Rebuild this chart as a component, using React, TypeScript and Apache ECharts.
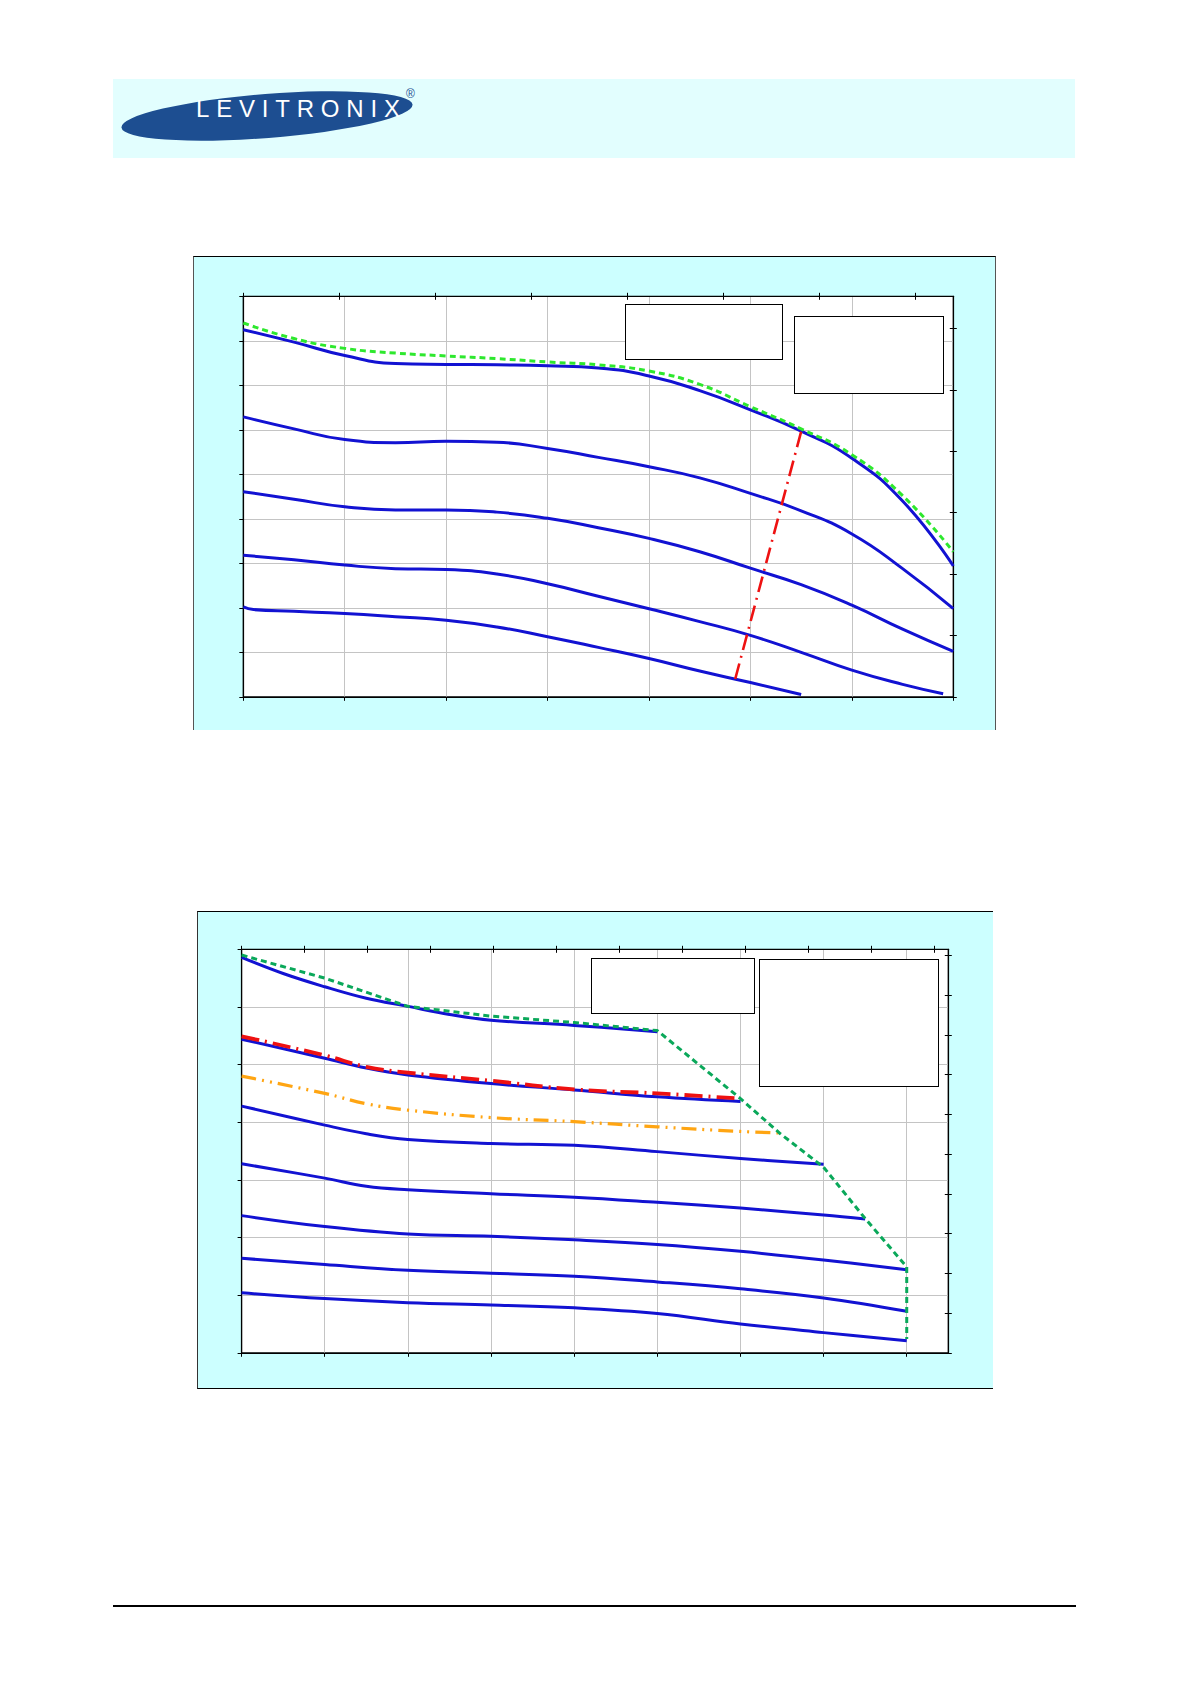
import React, { useEffect, useRef } from "react";
import * as echarts from "echarts";

const W = 1191;
const H = 1684;

// unit conversions for secondary axes
const LPM_PER_GPM = 3.785;
const PSI_PER_BAR = 14.5038;

// ---------- Chart 1 (flow L/min, pressure bar) ----------
const C1_FLOW_MAX = 70;
const C1_PRES_MAX = 4.5;
const C1_TOP_TICKS = [0, 2.5, 5, 7.5, 10, 12.5, 15, 17.5];
const C1_RIGHT_TICKS = [0, 10, 20, 30, 40, 50, 60];

const C1_CURVE_1 = [[0, 4.125], [5, 3.985], [10, 3.835], [15, 3.745], [20, 3.735], [25, 3.73], [30, 3.72], [35, 3.695], [40, 3.605], [45, 3.44], [50, 3.225], [55, 2.985], [60, 2.68], [65, 2.2], [70, 1.47]];
const C1_CURVE_2 = [[0, 3.145], [5, 3.01], [10, 2.89], [15, 2.855], [20, 2.87], [25, 2.86], [30, 2.79], [35, 2.69], [40, 2.585], [45, 2.46], [50, 2.285], [55, 2.09], [60, 1.83], [65, 1.44], [70, 0.99]];
const C1_CURVE_3 = [[0, 2.305], [5, 2.22], [10, 2.135], [15, 2.1], [20, 2.1], [25, 2.075], [30, 2.005], [35, 1.9], [40, 1.78], [45, 1.63], [50, 1.445], [55, 1.26], [60, 1.03], [65, 0.76], [70, 0.51]];
const C1_CURVE_4 = [[0, 1.59], [5, 1.54], [10, 1.48], [15, 1.44], [20, 1.43], [25, 1.38], [30, 1.27], [35, 1.13], [40, 0.99], [45, 0.845], [50, 0.69], [55, 0.5], [60, 0.3], [65, 0.14], [69, 0.035]];
const C1_CURVE_5 = [[0, 1.01], [1, 0.98], [5, 0.96], [10, 0.935], [15, 0.9], [20, 0.86], [25, 0.785], [30, 0.675], [35, 0.555], [40, 0.43], [45, 0.29], [50, 0.16], [55, 0.025]];
const C1_MAX_ENVELOPE = [[0, 4.2], [5, 4.025], [10, 3.915], [15, 3.862], [20, 3.83], [25, 3.8], [30, 3.762], [35, 3.73], [40, 3.66], [45, 3.51], [50, 3.26], [55, 3.01], [60, 2.72], [65, 2.26], [70, 1.63]];
const C1_LIMIT_LINE = [[48.5, 0.2], [55.0, 2.98]];

// ---------- Chart 2 ----------
const C2_FLOW_MAX = 85;
const C2_PRES_MAX = 3.5;
const C2_BOTTOM_TICKS = [0, 10, 20, 30, 40, 50, 60, 70, 80];
const C2_TOP_TICKS = [0, 2, 4, 6, 8, 10, 12, 14, 16, 18, 20, 22];
const C2_RIGHT_TICKS = [0, 5, 10, 15, 20, 25, 30, 35, 40, 45, 50];

const C2_CURVE_1 = [[0, 3.43], [5, 3.29], [10, 3.175], [15, 3.075], [20, 3.005], [25, 2.935], [30, 2.885], [40, 2.84], [50, 2.785]];
const C2_CURVE_2 = [[0, 2.72], [10, 2.555], [15, 2.47], [20, 2.41], [30, 2.335], [40, 2.28], [50, 2.22], [60, 2.18]];
const C2_CURVE_3 = [[0, 2.14], [10, 1.975], [15, 1.9], [20, 1.85], [30, 1.815], [40, 1.8], [50, 1.745], [60, 1.685], [70, 1.635]];
const C2_CURVE_4 = [[0, 1.64], [10, 1.515], [15, 1.445], [20, 1.415], [30, 1.38], [40, 1.35], [50, 1.305], [60, 1.255], [70, 1.195], [75, 1.16]];
const C2_CURVE_5 = [[0, 1.19], [10, 1.095], [20, 1.03], [30, 1.01], [40, 0.98], [50, 0.94], [60, 0.88], [70, 0.805], [80, 0.72]];
const C2_CURVE_6 = [[0, 0.82], [10, 0.765], [20, 0.715], [30, 0.69], [40, 0.665], [50, 0.615], [60, 0.555], [70, 0.475], [80, 0.36]];
const C2_CURVE_7 = [[0, 0.52], [10, 0.47], [20, 0.435], [30, 0.415], [40, 0.39], [50, 0.34], [60, 0.25], [70, 0.175], [80, 0.105]];
const C2_RED_LINE = [[0, 2.745], [10, 2.58], [15, 2.48], [20, 2.43], [30, 2.36], [40, 2.285], [50, 2.25], [60, 2.205]];
const C2_ORANGE_LINE = [[0, 2.4], [10, 2.25], [15, 2.16], [20, 2.105], [30, 2.04], [40, 2.005], [50, 1.96], [60, 1.92], [65.2, 1.905]];
const C2_ENVELOPE = [[0, 3.45], [10, 3.25], [20, 3.005], [30, 2.92], [40, 2.865], [50, 2.795], [60, 2.205], [64.8, 1.9], [70, 1.61], [75, 1.165], [80, 0.745], [80, 0.12]];

const BLUE = "#1212d2";
const GRID_GRAY = "#c4c4c4";
const AX_LINE = { show: true, onZero: false, lineStyle: { color: "#000", width: 1.2 } };
const NO_LINE = { show: false, onZero: false };

function primaryX(gi: number, max: number, ticks?: number[]) {
  return {
    type: "value", gridIndex: gi, position: "bottom", min: 0, max, interval: 10,
    axisLine: AX_LINE,
    axisTick: { show: true, inside: false, length: 4, lineStyle: { color: "#000" }, ...(ticks ? { customValues: ticks } : {}) },
    axisLabel: { show: false },
    splitLine: { show: true, lineStyle: { color: GRID_GRAY, width: 1 } },
  };
}
function secondaryX(gi: number, max: number, ticks: number[], inside: boolean) {
  return {
    type: "value", gridIndex: gi, position: "top", min: 0, max,
    axisLine: inside ? NO_LINE : AX_LINE,
    axisTick: { show: true, inside, length: 3.5, customValues: ticks, lineStyle: { color: "#000" } },
    axisLabel: { show: false },
    splitLine: { show: false },
  };
}
function primaryY(gi: number, max: number) {
  return {
    type: "value", gridIndex: gi, position: "left", min: 0, max, interval: 0.5,
    axisLine: AX_LINE,
    axisTick: { show: true, inside: false, length: 4, lineStyle: { color: "#000" } },
    axisLabel: { show: false },
    splitLine: { show: true, lineStyle: { color: GRID_GRAY, width: 1 } },
  };
}
function secondaryY(gi: number, max: number, ticks: number[], inside: boolean) {
  return {
    type: "value", gridIndex: gi, position: "right", min: 0, max,
    axisLine: inside ? NO_LINE : AX_LINE,
    axisTick: { show: true, inside, length: 3.5, customValues: ticks, lineStyle: { color: "#000" } },
    axisLabel: { show: false },
    splitLine: { show: false },
  };
}
function line(data: number[][], xi: number, yi: number, color: string, width: number, type: any, smooth: any, z = 2) {
  return {
    type: "line", xAxisIndex: xi, yAxisIndex: yi, data, symbol: "none", showSymbol: false,
    smooth, silent: true, z,
    lineStyle: { color, width, type, cap: "butt", join: "round" },
  };
}

const boxStyle = (l: number, t: number, r: number, b: number): React.CSSProperties => ({
  position: "absolute", left: l, top: t, width: r - l, height: b - t,
  background: "#fff", border: "1.3px solid #000", boxSizing: "border-box",
});

export default function App() {
  const ref = useRef<HTMLDivElement>(null);
  useEffect(() => {
    if (!ref.current) return;
    const chart = echarts.init(ref.current, null, { renderer: "svg", width: W, height: H });
    const option: any = {
      animation: false,
      backgroundColor: "transparent",
      grid: [
        { left: 243.3, top: 296.3, width: 710, height: 400.5, show: true, backgroundColor: "#fff", borderColor: "#000", borderWidth: 1.2 },
        { left: 241.6, top: 949.3, width: 706.7, height: 403.5, show: true, backgroundColor: "#fff", borderColor: "#000", borderWidth: 1.2 },
      ],
      xAxis: [
        primaryX(0, C1_FLOW_MAX),
        secondaryX(0, C1_FLOW_MAX / LPM_PER_GPM, C1_TOP_TICKS, false),
        secondaryX(0, C1_FLOW_MAX / LPM_PER_GPM, C1_TOP_TICKS, true),
        primaryX(1, C2_FLOW_MAX, C2_BOTTOM_TICKS),
        secondaryX(1, C2_FLOW_MAX / LPM_PER_GPM, C2_TOP_TICKS, false),
        secondaryX(1, C2_FLOW_MAX / LPM_PER_GPM, C2_TOP_TICKS, true),
      ],
      yAxis: [
        primaryY(0, C1_PRES_MAX),
        secondaryY(0, C1_PRES_MAX * PSI_PER_BAR, C1_RIGHT_TICKS, false),
        secondaryY(0, C1_PRES_MAX * PSI_PER_BAR, C1_RIGHT_TICKS, true),
        primaryY(1, C2_PRES_MAX),
        secondaryY(1, C2_PRES_MAX * PSI_PER_BAR, C2_RIGHT_TICKS, false),
        secondaryY(1, C2_PRES_MAX * PSI_PER_BAR, C2_RIGHT_TICKS, true),
      ],
      series: [
        line(C1_CURVE_1, 0, 0, BLUE, 3, "solid", 0.5),
        line(C1_CURVE_2, 0, 0, BLUE, 3, "solid", 0.5),
        line(C1_CURVE_3, 0, 0, BLUE, 3, "solid", 0.5),
        line(C1_CURVE_4, 0, 0, BLUE, 3, "solid", 0.5),
        line(C1_CURVE_5, 0, 0, BLUE, 3, "solid", 0.5),
        line(C1_MAX_ENVELOPE, 0, 0, "#2ee82e", 3, [6, 4], 0.5, 3),
        line(C1_LIMIT_LINE, 0, 0, "#ee1111", 2.6, [16, 6, 2, 6], false, 3),
        line(C2_CURVE_1, 3, 3, BLUE, 3, "solid", 0.4),
        line(C2_CURVE_2, 3, 3, BLUE, 3, "solid", 0.4),
        line(C2_CURVE_3, 3, 3, BLUE, 3, "solid", 0.4),
        line(C2_CURVE_4, 3, 3, BLUE, 3, "solid", 0.4),
        line(C2_CURVE_5, 3, 3, BLUE, 3, "solid", 0.4),
        line(C2_CURVE_6, 3, 3, BLUE, 3, "solid", 0.4),
        line(C2_CURVE_7, 3, 3, BLUE, 3, "solid", 0.4),
        line(C2_RED_LINE, 3, 3, "#ee1111", 3.8, [18, 6, 2, 6], 0.4, 3),
        line(C2_ORANGE_LINE, 3, 3, "#ffa512", 3.2, [15, 6, 2, 6, 2, 6], 0.4, 3),
        line(C2_ENVELOPE, 3, 3, "#0aa85a", 3, [6, 4], false, 3),
      ],
    };
    chart.setOption(option);
    return () => chart.dispose();
  }, []);

  return (
    <div style={{ position: "absolute", left: 0, top: 0, width: W, height: H, overflow: "hidden", background: "#fff" }}>
      {/* header */}
      <div style={{ position: "absolute", left: 112.7, top: 79.3, width: 962.3, height: 79, background: "#e2fefe" }} />
      <div style={{ position: "absolute", left: 267 - 146, top: 116 - 22, width: 292, height: 44, borderRadius: "50%", background: "#1d4e91", transform: "rotate(-4.5deg)" }} />
      {/* chart panels */}
      <div style={{ position: "absolute", left: 193.3, top: 256, width: 802.7, height: 474, background: "#ccffff", borderTop: "1px solid #000", borderLeft: "1px solid #555", borderRight: "1px solid #555", boxSizing: "border-box" }} />
      <div style={{ position: "absolute", left: 196.5, top: 910.7, width: 796.5, height: 478.5, background: "#ccffff", borderTop: "1px solid #000", borderLeft: "1px solid #333", borderBottom: "1px solid #000", boxSizing: "border-box" }} />
      {/* footer rule */}
      <div style={{ position: "absolute", left: 112.8, top: 1605, width: 963, height: 1.6, background: "#000" }} />
      <div ref={ref} style={{ position: "absolute", left: 0, top: 0, width: W, height: H }} />
      {/* logo text */}
      <div style={{ position: "absolute", left: 196, top: 97, fontFamily: "'Liberation Sans', Arial, sans-serif", fontSize: 24, lineHeight: "24px", letterSpacing: "6.8px", color: "#fff", whiteSpace: "nowrap" }}>LEVITRONIX</div>
      <div style={{ position: "absolute", left: 406, top: 88, fontFamily: "'Liberation Sans', Arial, sans-serif", fontSize: 12, lineHeight: "12px", color: "#1d4e91" }}>®</div>
      {/* legend / note boxes */}
      <div style={boxStyle(625, 304.3, 782.5, 360.3)} />
      <div style={boxStyle(793.7, 315.5, 944.3, 394.2)} />
      <div style={boxStyle(590.6, 958.3, 755.4, 1014.3)} />
      <div style={boxStyle(758.8, 959.3, 939.3, 1087)} />
    </div>
  );
}
